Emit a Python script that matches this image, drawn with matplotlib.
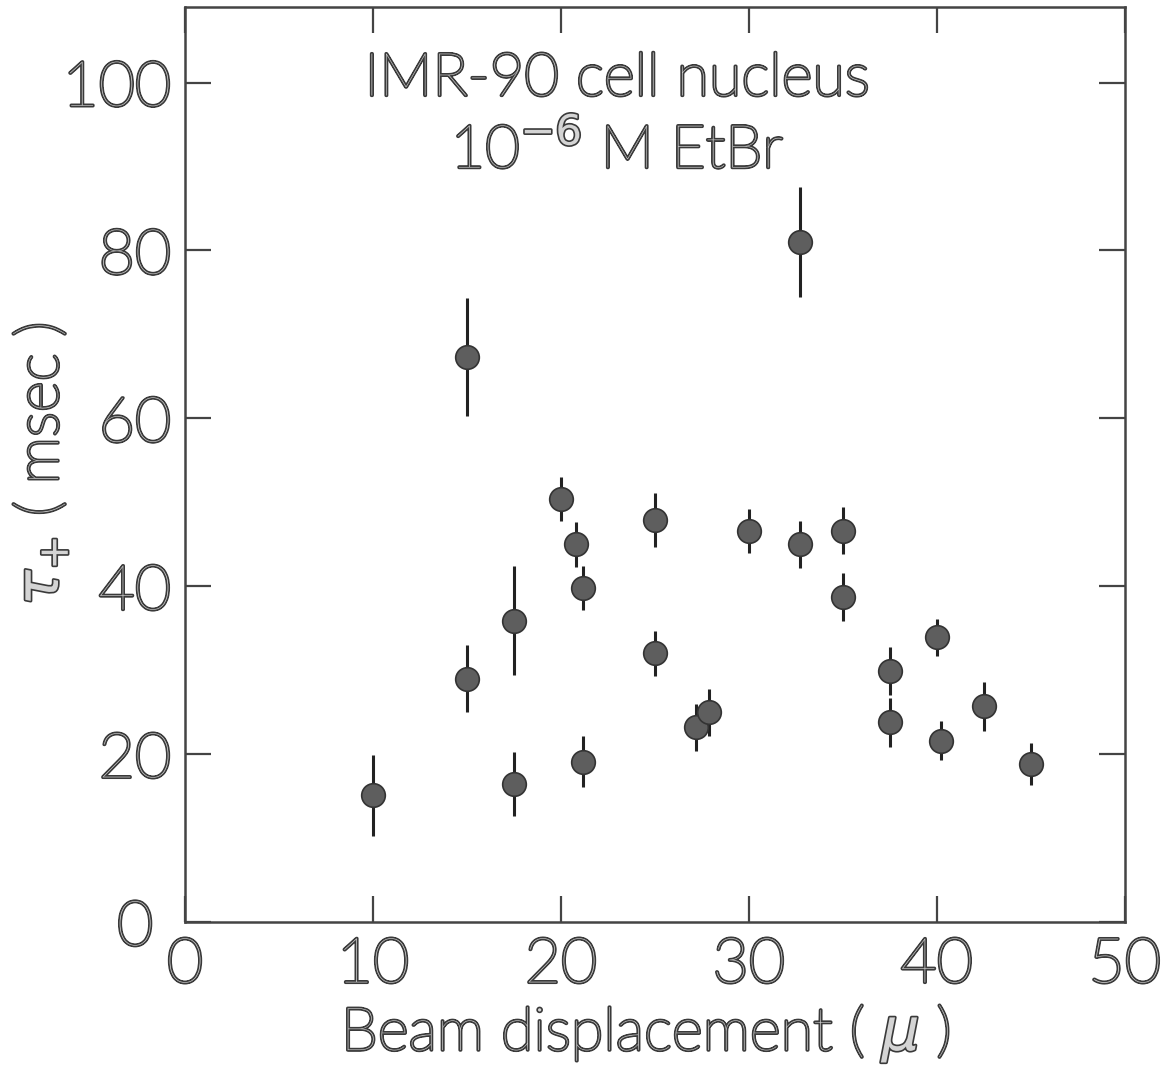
import numpy as np
import matplotlib
matplotlib.use('Agg')
import matplotlib.pyplot as plt
import matplotlib.patheffects as pe

# beam displacement (micron) and tau+ (msec) with error bars
displacement = [10, 15, 15, 17.5, 17.5, 20, 20.8, 21.2, 21.2, 25, 25,
                27.2, 27.9, 30, 32.7, 32.7, 35, 35, 37.5, 37.5, 40, 40.2, 42.5, 45]
tau = [15.1, 67.3, 29.0, 35.9, 16.4, 50.4, 45.0, 39.8, 19.1, 47.9, 32.0,
       23.2, 25.0, 46.6, 45.0, 81.0, 46.6, 38.7, 29.9, 23.8, 33.9, 21.6, 25.7, 18.8]
tau_err = [4.8, 7.0, 4.0, 6.5, 3.8, 2.6, 2.7, 2.6, 3.0, 3.2, 2.7,
           2.8, 2.8, 2.6, 2.8, 6.5, 2.8, 2.9, 2.9, 2.9, 2.2, 2.3, 2.9, 2.5]

x_ticks = [0, 10, 20, 30, 40, 50]
y_ticks = [0, 20, 40, 60, 80, 100]

plt.rcParams['font.family'] = ['Lato', 'DejaVu Sans']
plt.rcParams['mathtext.fontset'] = 'dejavusans'

outline = [pe.withStroke(linewidth=2.4, foreground='#3a3a3a')]
txt_col = '#d4d4d4'

fig = plt.figure(figsize=(11.74, 10.78), dpi=100)
ax = fig.add_axes([0.1576, 0.1447, 0.8004, 0.8488])

ax.errorbar(displacement, tau, yerr=tau_err, fmt='o', ms=17, mfc='#5e5e5e', mec='#333333',
            mew=1.2, ecolor='#222222', elinewidth=2.2, capsize=0, zorder=3)

ax.set_xlim(0, 50)
ax.set_ylim(0, 109)
ax.set_xticks(x_ticks)
ax.set_yticks(y_ticks)
# the y "0" label sits a bit further left, like the original
ax.set_yticklabels(['0 '] + [str(v) for v in y_ticks[1:]])

for s in ax.spines.values():
    s.set_linewidth(1.8)
    s.set_color('#444444')

ax.tick_params(axis='both', direction='in', length=19, width=1.6, color='#444444',
               top=True, right=True, labelsize=45, labelcolor=txt_col, pad=10)
for lab in ax.get_xticklabels() + ax.get_yticklabels():
    lab.set_path_effects(outline)
    lab.set_fontweight('light')

ax.set_xlabel(r'Beam displacement ( $\mu$ )', fontsize=43, color=txt_col,
              fontweight='light', path_effects=outline)
ax.set_ylabel(r'$\tau_{+}$ ( msec )', fontsize=43, color=txt_col,
              fontweight='light', path_effects=outline)
ax.xaxis.set_label_coords(0.49, -0.088)
ax.yaxis.set_label_coords(-0.122, 0.5)

ax.text(23, 100.4, 'IMR-90 cell nucleus', fontsize=43, ha='center', va='center',
        color=txt_col, fontweight='light', path_effects=outline)
ax.text(23, 92, r'10$^{-6}$ M EtBr', fontsize=43, ha='center', va='center',
        color=txt_col, fontweight='light', path_effects=outline)

fig.savefig('out.png', dpi=100)
